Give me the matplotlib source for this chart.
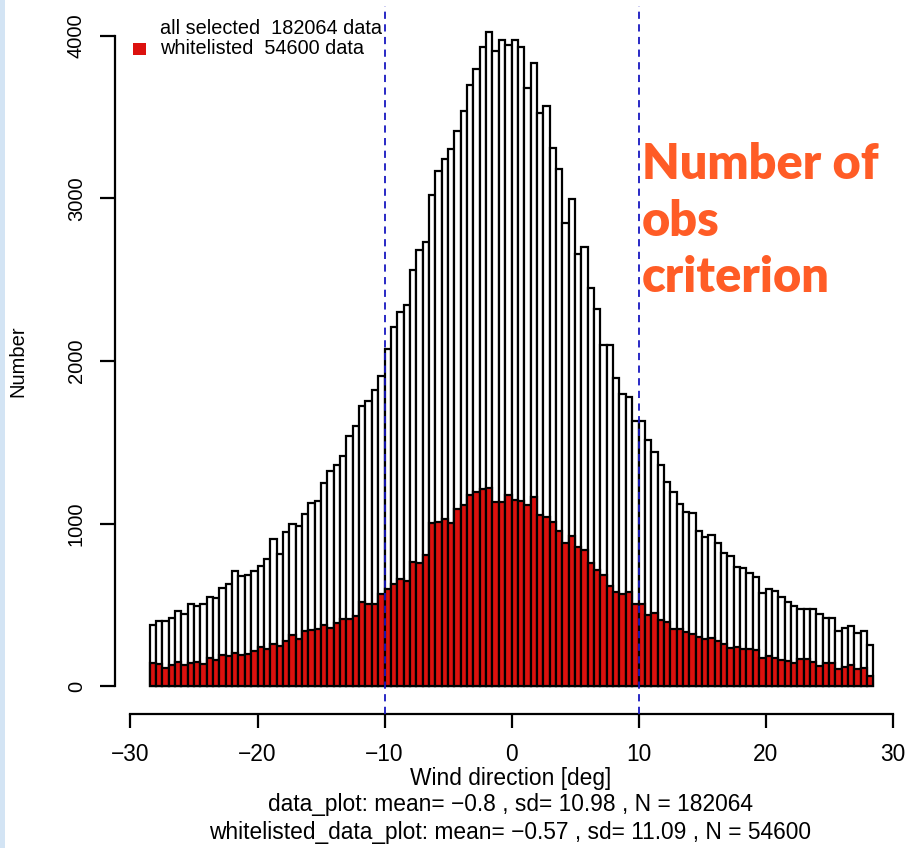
import numpy as np
import matplotlib.pyplot as plt
from matplotlib.patches import Rectangle

W, H = 906, 848

# histogram of wind direction departures, 0.5 deg bins from -28.5 to 28.5
bin_width = 0.5
bin_left = np.arange(-28.5, 28.5, bin_width)

all_selected = [
    375, 400, 400, 416, 461, 441, 503, 492, 503, 550,
    540, 605, 626, 708, 677, 683, 708, 738, 779, 907,
    810, 946, 997, 987, 1057, 1124, 1141, 1251, 1326, 1363,
    1416, 1541, 1598, 1720, 1754, 1819, 1908, 2076, 2208, 2301,
    2342, 2558, 2683, 2731, 3022, 3172, 3244, 3303, 3418, 3538,
    3698, 3797, 3933, 4024, 3906, 3978, 3944, 3978, 3933, 3677,
    3831, 3524, 3572, 3311, 3183, 2849, 2996, 2657, 2702, 2448,
    2323, 2096, 2101, 1896, 1794, 1781, 1630, 1630, 1516, 1442,
    1363, 1256, 1196, 1122, 1068, 1062, 955, 919, 927, 882,
    816, 800, 734, 728, 697, 673, 574, 597, 587, 550,
    519, 492, 472, 472, 472, 443, 420, 416, 338, 359,
    369, 328, 340, 252,
]
whitelisted = [
    144, 133, 108, 129, 150, 129, 144, 150, 135, 170,
    160, 191, 187, 201, 191, 195, 215, 242, 228, 256,
    246, 277, 314, 287, 338, 345, 349, 375, 360, 387,
    414, 414, 433, 515, 507, 507, 569, 595, 627, 659,
    646, 766, 756, 809, 1001, 1007, 1028, 1001, 1089, 1113,
    1175, 1193, 1215, 1220, 1135, 1130, 1175, 1143, 1140, 1116,
    1161, 1055, 1041, 1007, 953, 881, 926, 854, 836, 756,
    713, 681, 614, 579, 569, 579, 507, 502, 435, 449,
    409, 392, 352, 352, 331, 318, 304, 287, 293, 279,
    256, 236, 242, 230, 226, 222, 170, 185, 170, 160,
    156, 139, 164, 164, 150, 123, 139, 139, 103, 115,
    129, 103, 109, 62,
]

n_all, n_white = 182064, 54600
stats_all = ("−0.8", "10.98")
stats_white = ("−0.57", "11.09")
criterion = [-10, 10]

x_ticks = [-30, -20, -10, 0, 10, 20, 30]
x_ticklabels = ["−30", "−20", "−10", "0", "10", "20", "30"]
y_ticks = [0, 1000, 2000, 3000, 4000]

RED = "#dc110e"
BLUE = "#1818c0"
ORANGE = "#ff5c26"

plt.rcParams["font.family"] = ["Liberation Sans", "DejaVu Sans"]


def fx(px):
    return px / W


def fy(py):
    return 1 - py / H


fig = plt.figure(figsize=(W / 100, H / 100), dpi=100)
fig.patch.set_facecolor("white")
fig.add_artist(Rectangle((0, 0), fx(5), 1, transform=fig.transFigure,
                         facecolor="#d3e4f4", edgecolor="none"))

ax = fig.add_axes([fx(115), fy(714), fx(906) - fx(115), fy(6) - fy(714)])
ax.set_xlim(-31.22, 31.06)
ax.set_ylim(-172.3, 4184.6)

ax.bar(bin_left, all_selected, width=bin_width, align="edge",
       facecolor="white", edgecolor="black", linewidth=1.6, zorder=2)
ax.bar(bin_left, whitelisted, width=bin_width, align="edge",
       facecolor=RED, edgecolor="black", linewidth=1.6, zorder=3)

for xc in criterion:
    ax.axvline(xc, color=BLUE, linewidth=1.3, linestyle=(0, (4, 3)), zorder=4)

for s in ("top", "right"):
    ax.spines[s].set_visible(False)
ax.spines["bottom"].set_bounds(-30, 30)
ax.spines["left"].set_bounds(0, 4000)
for s in ("bottom", "left"):
    ax.spines[s].set_linewidth(1.6)

ax.set_xticks(x_ticks)
ax.set_xticklabels(x_ticklabels, fontsize=16.4)
ax.set_yticks(y_ticks)
ax.set_yticklabels([str(v) for v in y_ticks], fontsize=14.5,
                   rotation=90, va="center")
ax.tick_params(axis="x", length=10, width=1.6, pad=11)
ax.tick_params(axis="y", length=11, width=1.6, pad=10)

# legend (R style, no frame)
fig.add_artist(Rectangle((fx(133), fy(55)), fx(13), fy(43) - fy(55),
                         transform=fig.transFigure, facecolor=RED, edgecolor="none"))
fig.text(fx(160), fy(28), f"all selected  {n_all} data", fontsize=14.3,
         va="center", ha="left")
fig.text(fx(160), fy(49), f"whitelisted  {n_white} data", fontsize=14.3,
         va="center", ha="left")

fig.text(fx(18), fy(361), "Number", fontsize=14.5, rotation=90,
         ha="center", va="center")

xc = fx(510.5)
fig.text(xc, fy(778), "Wind direction [deg]", fontsize=16.4, ha="center", va="center")
fig.text(xc, fy(805),
         f"data_plot: mean= {stats_all[0]} , sd= {stats_all[1]} , N = {n_all}",
         fontsize=16.4, ha="center", va="center")
fig.text(xc, fy(833),
         f"whitelisted_data_plot: mean= {stats_white[0]} , sd= {stats_white[1]} , N = {n_white}",
         fontsize=16.4, ha="center", va="center")

fig.text(fx(642), fy(221), "Number of\nobs\ncriterion", fontsize=35,
         fontweight="heavy", family=["Lato", "DejaVu Sans"], color=ORANGE,
         ha="left", va="center", linespacing=1.3)

fig.savefig("out.png", dpi=100, facecolor="white")
